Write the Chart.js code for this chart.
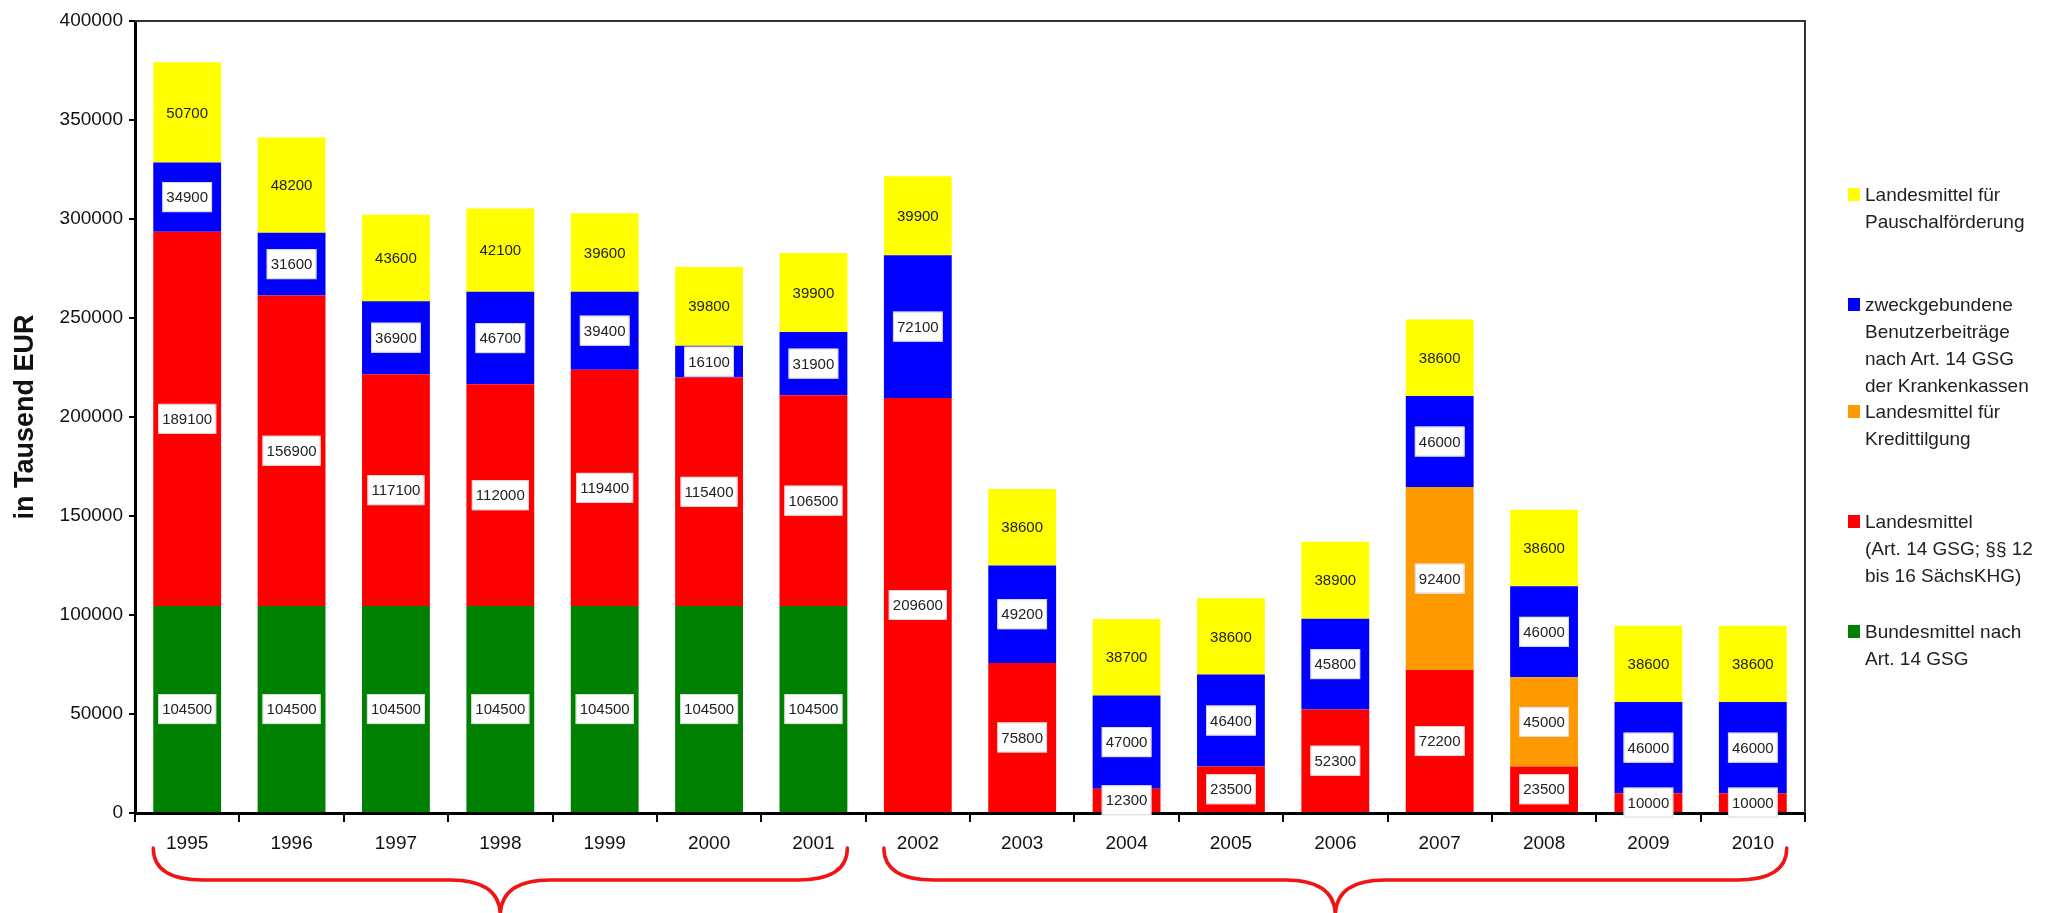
<!DOCTYPE html>
<html>
<head>
<meta charset="utf-8">
<script src="https://cdn.jsdelivr.net/npm/chart.js@4.4.1/dist/chart.umd.min.js"></script>
<style>
  body { margin: 0; background: #fff; }
  #wrap { position: relative; width: 2056px; height: 913px; }
  #legend { position: absolute; left: 1848px; top: 0; font-family: "Liberation Sans", Arial, sans-serif; font-size: 19px; line-height: 27px; color: #222; }
  .item { position: absolute; left: 0; white-space: nowrap; }
  .sw { position: absolute; left: 0; top: 7px; width: 12px; height: 13px; }
  .txt { margin-left: 17px; }
</style>
</head>
<body>
<div id="wrap">
  <canvas id="chart"></canvas>
  <div id="legend"></div>
</div>
<script>
const years = ['1995', '1996', '1997', '1998', '1999', '2000', '2001', '2002',
  '2003', '2004', '2005', '2006', '2007', '2008', '2009', '2010'];

// values in Tausend EUR, null = no segment
const bundesmittel = [104500, 104500, 104500, 104500, 104500, 104500, 104500,
  null, null, null, null, null, null, null, null, null];
const landesmittel = [189100, 156900, 117100, 112000, 119400, 115400, 106500, 209600,
  75800, 12300, 23500, 52300, 72200, 23500, 10000, 10000];
const kredittilgung = [null, null, null, null, null, null, null, null,
  null, null, null, null, 92400, 45000, null, null];
const benutzerbeitraege = [34900, 31600, 36900, 46700, 39400, 16100, 31900, 72100,
  49200, 47000, 46400, 45800, 46000, 46000, 46000, 46000];
const pauschal = [50700, 48200, 43600, 42100, 39600, 39800, 39900, 39900,
  38600, 38700, 38600, 38900, 38600, 38600, 38600, 38600];

const yTickStep = 50000;
const yMax = 400000;

// legend, top to bottom
const legendLabels = [
  ['Landesmittel für', 'Pauschalförderung'],
  ['zweckgebundene', 'Benutzerbeiträge', 'nach Art. 14 GSG', 'der Krankenkassen'],
  ['Landesmittel für', 'Kredittilgung'],
  ['Landesmittel', '(Art. 14 GSG; §§ 12', 'bis 16 SächsKHG)'],
  ['Bundesmittel nach', 'Art. 14 GSG']
];
const legendColors = ['#ffff00', '#0000ff', '#ff9900', '#ff0000', '#008000'];
const legendTops = [181, 291, 398, 508, 618];

// index ranges under each brace
const braceGroups = [[0, 6], [7, 15]];

const FONT = '"Liberation Sans", Arial, sans-serif';
const BAR_PCT = 0.65;

const legend = document.getElementById('legend');
legendLabels.forEach((lines, i) => {
  const item = document.createElement('div');
  item.className = 'item';
  item.style.top = legendTops[i] + 'px';
  item.innerHTML = '<span class="sw" style="background:' + legendColors[i] + '"></span>' +
    '<div class="txt">' + lines.join('<br>') + '</div>';
  legend.appendChild(item);
});

const framePlugin = {
  id: 'frame',
  afterDraw(chart) {
    const { ctx, chartArea: a } = chart;
    ctx.save();
    ctx.strokeStyle = '#333';
    ctx.lineWidth = 2;
    ctx.beginPath();
    ctx.moveTo(a.left, a.top);
    ctx.lineTo(a.right, a.top);
    ctx.lineTo(a.right, a.bottom);
    ctx.stroke();
    ctx.restore();
  }
};

const valueLabels = {
  id: 'valueLabels',
  afterDatasetsDraw(chart) {
    const ctx = chart.ctx;
    ctx.save();
    ctx.font = '15px ' + FONT;
    ctx.textAlign = 'center';
    ctx.textBaseline = 'middle';
    chart.data.datasets.forEach((ds, i) => {
      chart.getDatasetMeta(i).data.forEach((bar, j) => {
        const v = ds.data[j];
        if (v == null) return;
        const { x, y, base } = bar.getProps(['x', 'y', 'base'], true);
        const cy = (y + base) / 2;
        const text = String(v);
        if (ds.boxed) {
          const w = ctx.measureText(text).width + 8;
          ctx.fillStyle = '#fff';
          ctx.fillRect(x - w / 2, cy - 15, w, 30);
          ctx.strokeStyle = '#d8d8d8';
          ctx.lineWidth = 1;
          ctx.strokeRect(x - w / 2 + 0.5, cy - 14.5, w - 1, 29);
        }
        ctx.fillStyle = '#222';
        ctx.fillText(text, x, cy + 1);
      });
    });
    ctx.restore();
  }
};

const braces = {
  id: 'braces',
  afterDraw(chart) {
    const { ctx, scales: { x } } = chart;
    const half = x.width / years.length * BAR_PCT / 2;
    const yTop = 848, yMid = 880, yBot = 916, r = 50;
    ctx.save();
    ctx.strokeStyle = '#f01414';
    ctx.lineWidth = 3.5;
    ctx.lineCap = 'round';
    braceGroups.forEach(([from, to]) => {
      const x1 = x.getPixelForValue(from) - half;
      const x2 = x.getPixelForValue(to) + half;
      const xc = (x1 + x2) / 2;
      ctx.beginPath();
      ctx.moveTo(x1, yTop);
      ctx.quadraticCurveTo(x1, yMid, x1 + r, yMid);
      ctx.lineTo(xc - r, yMid);
      ctx.quadraticCurveTo(xc, yMid, xc, yBot);
      ctx.moveTo(xc, yBot);
      ctx.quadraticCurveTo(xc, yMid, xc + r, yMid);
      ctx.lineTo(x2 - r, yMid);
      ctx.quadraticCurveTo(x2, yMid, x2, yTop);
      ctx.stroke();
    });
    ctx.restore();
  }
};

new Chart(document.getElementById('chart'), {
  type: 'bar',
  data: {
    labels: years,
    datasets: [
      { label: legendLabels[4].join(' '), data: bundesmittel, backgroundColor: '#008000', boxed: true },
      { label: legendLabels[3].join(' '), data: landesmittel, backgroundColor: '#ff0000', boxed: true },
      { label: legendLabels[2].join(' '), data: kredittilgung, backgroundColor: '#ff9900', boxed: true },
      { label: legendLabels[1].join(' '), data: benutzerbeitraege, backgroundColor: '#0000ff', boxed: true },
      { label: legendLabels[0].join(' '), data: pauschal, backgroundColor: '#ffff00', boxed: false }
    ]
  },
  options: {
    responsive: true,
    maintainAspectRatio: false,
    animation: false,
    datasets: { bar: { barPercentage: BAR_PCT, categoryPercentage: 1 } },
    layout: { padding: { top: 21, right: 251, bottom: 0, left: 0 } },
    plugins: {
      legend: { display: false },
      tooltip: { enabled: false }
    },
    scales: {
      x: {
        stacked: true,
        border: { color: '#000', width: 3 },
        grid: { display: true, drawOnChartArea: false, offset: true, tickLength: 9, color: '#000', lineWidth: 2 },
        ticks: { color: '#111', font: { family: FONT, size: 19 }, padding: 10 },
        afterFit(s) { s.height = 100; }
      },
      y: {
        stacked: true,
        min: 0,
        max: yMax,
        border: { color: '#000', width: 3 },
        grid: { drawOnChartArea: false, tickLength: 6, color: '#000', lineWidth: 2 },
        ticks: {
          stepSize: yTickStep,
          padding: 6,
          color: '#111',
          font: { family: FONT, size: 19 },
          callback: v => String(v)
        },
        title: {
          display: true,
          text: 'in Tausend EUR',
          color: '#111',
          font: { family: FONT, size: 27, weight: 'bold' },
          padding: { top: 9, bottom: 0 }
        },
        afterFit(s) { s.width = 135; }
      }
    }
  },
  plugins: [framePlugin, valueLabels, braces]
});
</script>
</body>
</html>
